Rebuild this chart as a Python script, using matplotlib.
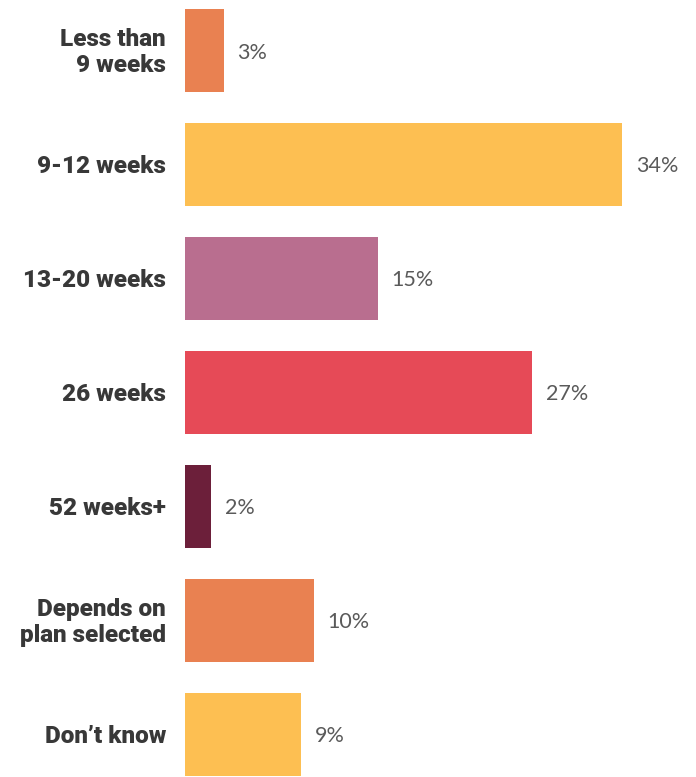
import matplotlib
matplotlib.use('Agg')
from matplotlib import pyplot as plt

categories = ['Less than\n9 weeks', '9-12 weeks', '13-20 weeks', '26 weeks',
              '52 weeks+', 'Depends on\nplan selected', "Don\u2019t know"]
values = [3, 34, 15, 27, 2, 10, 9]
colors = ['#E98151', '#FDBF52', '#B96E8F', '#E64A57', '#6C1F3A', '#E98151', '#FDBF52']

fig = plt.figure(figsize=(6.96, 7.77), dpi=100)
ax = fig.add_axes([185 / 696, 0, 511 / 696, 1])

y = list(range(len(values)))
ax.barh(y, values, height=0.728, color=colors)
ax.set_xlim(0, 511 / 12.85)
ax.set_ylim(6.373, -0.443)

for i, (cat, v) in enumerate(zip(categories, values)):
    ax.annotate(cat, xy=(0, i), xytext=(-19, -2), textcoords='offset pixels',
                ha='right', va='center', fontsize=17.5, fontweight='heavy',
                family='Roboto', color='#383838', linespacing=1.22)
    ax.annotate(f'{v}%', xy=(v, i), xytext=(14, -2), textcoords='offset pixels',
                ha='left', va='center', fontsize=15.5, fontweight='normal',
                family='Lato', color='#5a5a5a')

ax.axis('off')
plt.savefig('out.png', dpi=100)
